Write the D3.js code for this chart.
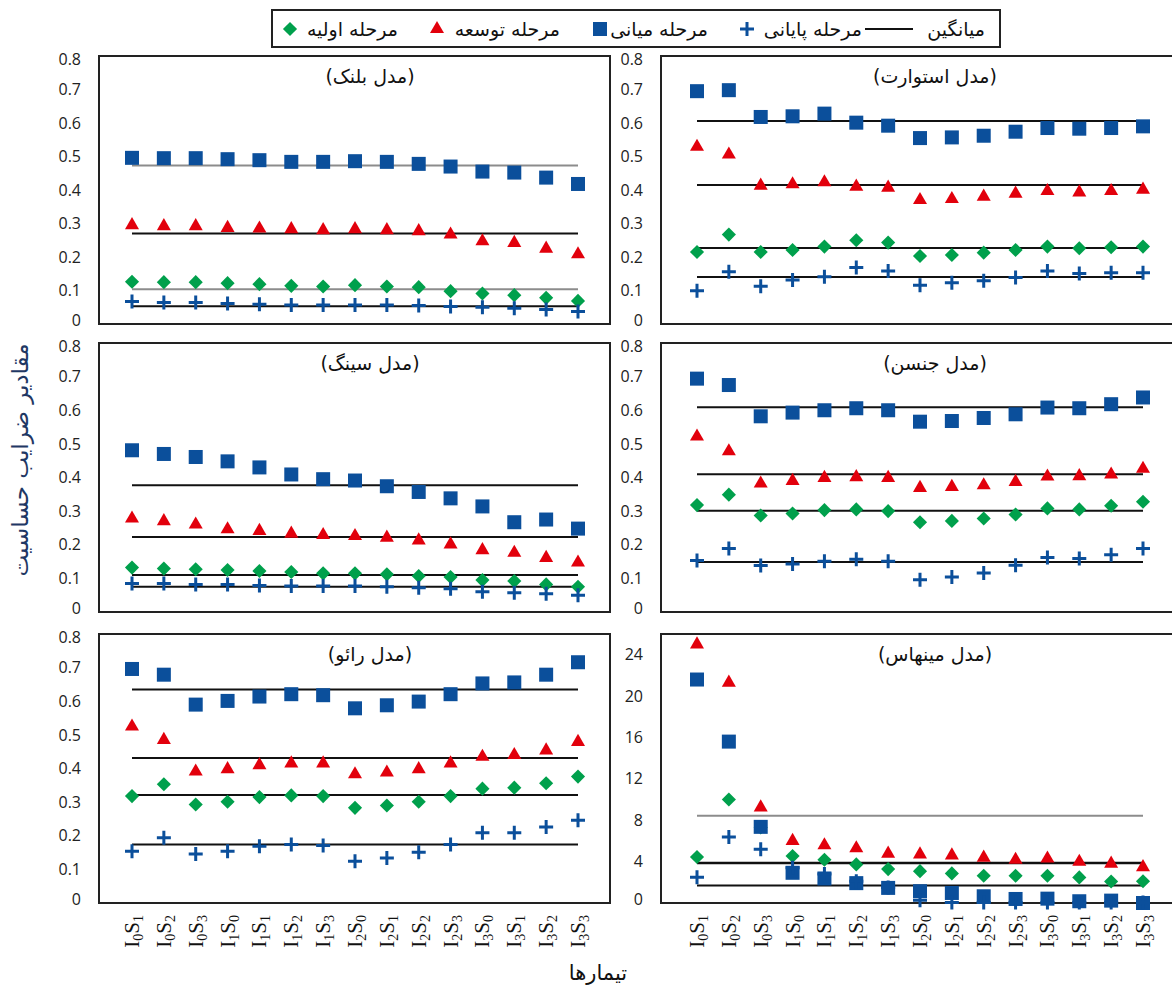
<!DOCTYPE html>
<html>
<head>
<meta charset="utf-8">
<script src="https://cdn.jsdelivr.net/npm/d3@7"></script>
<style>
body { margin: 0; background: #fff; }
</style>
</head>
<body>
<div id="chart"></div>
<script>
// treatments (x axis)
const treatments = ["I0S1","I0S2","I0S3","I1S0","I1S1","I1S2","I1S3","I2S0","I2S1","I2S2","I2S3","I3S0","I3S1","I3S2","I3S3"];
const stageNames = ["مرحله اولیه", "مرحله توسعه", "مرحله میانی", "مرحله پایانی"];
const meanName = "میانگین";
const modelTitles = ["(مدل بلنک)", "(مدل استوارت)", "(مدل سینگ)", "(مدل جنسن)", "(مدل رائو)", "(مدل مینهاس)"];
const smallTicks = [0, 0.1, 0.2, 0.3, 0.4, 0.5, 0.6, 0.7, 0.8];
const minhasTicks = [0, 4, 8, 12, 16, 20, 24];

// Blank
const blankInitial = [0.126,0.125,0.125,0.122,0.119,0.114,0.112,0.116,0.112,0.110,0.098,0.091,0.086,0.078,0.069];
const blankDevelop = [0.295,0.292,0.292,0.287,0.285,0.283,0.280,0.283,0.280,0.277,0.267,0.247,0.242,0.225,0.208];
const blankMiddle  = [0.496,0.495,0.495,0.492,0.489,0.484,0.484,0.486,0.484,0.478,0.470,0.455,0.452,0.437,0.418];
const blankLate    = [0.067,0.064,0.064,0.061,0.059,0.057,0.057,0.057,0.057,0.055,0.052,0.050,0.047,0.043,0.037];
const blankMeans   = [0.104, 0.270, 0.473, 0.053];

// Stewart
const stewartInitial = [0.215,0.267,0.215,0.221,0.231,0.250,0.243,0.203,0.206,0.213,0.221,0.231,0.226,0.229,0.231];
const stewartDevelop = [0.529,0.506,0.413,0.417,0.423,0.410,0.407,0.370,0.373,0.380,0.389,0.397,0.393,0.397,0.401];
const stewartMiddle  = [0.695,0.698,0.618,0.620,0.628,0.601,0.592,0.555,0.557,0.562,0.574,0.585,0.583,0.585,0.590];
const stewartLate    = [0.099,0.156,0.113,0.131,0.141,0.169,0.158,0.116,0.123,0.129,0.139,0.158,0.151,0.153,0.153];
const stewartMeans   = [0.227, 0.415, 0.606, 0.140];

// Sing
const singInitial = [0.132,0.129,0.127,0.125,0.122,0.119,0.115,0.115,0.112,0.107,0.104,0.095,0.092,0.082,0.075];
const singDevelop = [0.278,0.270,0.260,0.246,0.241,0.233,0.229,0.226,0.221,0.213,0.201,0.184,0.176,0.161,0.147];
const singMiddle  = [0.481,0.470,0.461,0.448,0.430,0.409,0.395,0.391,0.374,0.357,0.338,0.314,0.267,0.275,0.248];
const singLate    = [0.085,0.085,0.082,0.082,0.079,0.077,0.077,0.077,0.075,0.072,0.069,0.060,0.057,0.054,0.050];
const singMeans   = [0.110, 0.223, 0.377, 0.075];

// Jensen
const jensenInitial = [0.318,0.349,0.287,0.293,0.303,0.305,0.300,0.267,0.271,0.278,0.290,0.308,0.305,0.316,0.328];
const jensenDevelop = [0.522,0.478,0.382,0.390,0.399,0.401,0.399,0.369,0.372,0.377,0.387,0.403,0.404,0.409,0.426];
const jensenMiddle  = [0.694,0.675,0.582,0.593,0.600,0.606,0.600,0.566,0.568,0.577,0.588,0.608,0.606,0.618,0.638];
const jensenLate    = [0.153,0.189,0.138,0.143,0.151,0.157,0.151,0.096,0.104,0.116,0.139,0.162,0.159,0.170,0.189];
const jensenMeans   = [0.301, 0.410, 0.609, 0.149];

// Rao
const raoInitial = [0.318,0.353,0.293,0.301,0.315,0.320,0.318,0.283,0.290,0.301,0.318,0.340,0.343,0.356,0.376];
const raoDevelop = [0.525,0.485,0.391,0.398,0.410,0.415,0.415,0.383,0.388,0.398,0.415,0.435,0.440,0.454,0.479];
const raoMiddle  = [0.696,0.679,0.590,0.601,0.614,0.621,0.618,0.579,0.588,0.599,0.621,0.653,0.656,0.679,0.716];
const raoLate    = [0.154,0.194,0.146,0.154,0.169,0.174,0.171,0.124,0.134,0.151,0.174,0.209,0.209,0.226,0.246];
const raoMeans   = [0.321, 0.431, 0.635, 0.174];

// Minhas
const minhasInitial = [4.45,10.0,7.3,4.54,4.18,3.73,3.28,3.08,2.86,2.63,2.63,2.63,2.47,2.08,2.10];
const minhasDevelop = [25.0,21.3,9.24,6.0,5.58,5.29,4.77,4.70,4.60,4.38,4.18,4.30,3.99,3.80,3.47];
const minhasMiddle  = [21.6,15.6,7.36,2.92,2.37,1.92,1.46,1.14,0.97,0.65,0.39,0.42,0.17,0.23,0.0];
const minhasLate    = [2.5,6.39,5.19,3.4,2.8,2.1,1.5,0.26,0.05,0.05,0.05,0.05,0.05,0.05,0.05];
const minhasMeans   = [3.9, 8.43, 3.85, 1.69];

const panels = [
  { title: modelTitles[0], series: [blankInitial, blankDevelop, blankMiddle, blankLate], means: blankMeans, grey: [true, false, true, false], max: 0.8, ticks: smallTicks },
  { title: modelTitles[1], series: [stewartInitial, stewartDevelop, stewartMiddle, stewartLate], means: stewartMeans, grey: [false, false, false, false], max: 0.8, ticks: smallTicks },
  { title: modelTitles[2], series: [singInitial, singDevelop, singMiddle, singLate], means: singMeans, grey: [false, false, false, false], max: 0.8, ticks: smallTicks },
  { title: modelTitles[3], series: [jensenInitial, jensenDevelop, jensenMiddle, jensenLate], means: jensenMeans, grey: [false, false, false, false], max: 0.8, ticks: smallTicks },
  { title: modelTitles[4], series: [raoInitial, raoDevelop, raoMiddle, raoLate], means: raoMeans, grey: [false, false, false, false], max: 0.8, ticks: smallTicks },
  { title: modelTitles[5], series: [minhasInitial, minhasDevelop, minhasMiddle, minhasLate], means: minhasMeans, grey: [false, true, false, false], max: 26, ticks: minhasTicks }
];

const width = 1172;
const height = 987;
const faFont = "'DejaVu Sans', sans-serif";

const cols = [
  { x0: 99, x1: 610, d0: 132, d1: 578 },
  { x0: 661, x1: 1195, d0: 697, d1: 1143 }
];
const rows = [
  { top: 56, bot: 324 },
  { top: 343, bot: 612 },
  { top: 634, bot: 903 }
];

const blue = "#0b4f9b";
const red = "#e2000c";
const green = "#00a04c";

const svg = d3.select("#chart").append("svg")
  .attr("width", width)
  .attr("height", height);

// marker drawing helpers
function drawMarker(g, kind, x, y) {
  if (kind === 0) {
    g.append("rect").attr("x", x - 5).attr("y", y - 5).attr("width", 10).attr("height", 10)
      .attr("transform", `rotate(45,${x},${y})`).attr("fill", green);
  } else if (kind === 1) {
    g.append("path").attr("d", d3.symbol(d3.symbolTriangle, 85)()).attr("transform", `translate(${x},${y})`).attr("fill", red);
  } else if (kind === 2) {
    g.append("rect").attr("x", x - 7).attr("y", y - 7).attr("width", 14).attr("height", 14).attr("fill", blue);
  } else {
    g.append("path").attr("d", `M${x - 7},${y}H${x + 7}M${x},${y - 7}V${y + 7}`)
      .attr("stroke", blue).attr("stroke-width", 3);
  }
}

panels.forEach((p, i) => {
  const c = cols[i % 2];
  const r = rows[Math.floor(i / 2)];
  const x = d3.scalePoint().domain(treatments).range([c.d0, c.d1]);
  const y = d3.scaleLinear().domain([0, p.max]).range([r.bot, r.top]);
  const g = svg.append("g");

  g.append("rect")
    .attr("x", c.x0).attr("y", r.top)
    .attr("width", c.x1 - c.x0).attr("height", r.bot - r.top)
    .attr("fill", "none").attr("stroke", "#222").attr("stroke-width", 2);

  // y axis labels, no line
  const ax = g.append("g")
    .attr("transform", `translate(${c.x0 - 18},0)`)
    .call(d3.axisLeft(y).tickValues(p.ticks).tickSize(0).tickPadding(0).tickFormat(d => d3.format("")(d)));
  ax.select(".domain").remove();
  ax.selectAll("text").style("font-family", "'Open Sans', sans-serif").style("font-size", "16px").attr("fill", "#222");
  // first/last labels touch the next panel's labels, nudge them apart a bit
  ax.selectAll(".tick text").filter(d => d === 0).attr("dy", "0.1em");
  ax.selectAll(".tick text").filter(d => d === 0.8).attr("dy", "0.5em");

  g.append("text")
    .attr("x", (c.d0 + c.d1) / 2 + 15).attr("y", r.top + 27)
    .attr("text-anchor", "middle").style("font-family", faFont).style("font-size", "19px").attr("fill", "#111")
    .text(p.title);

  // mean lines
  p.means.forEach((m, k) => {
    g.append("line")
      .attr("x1", x(treatments[0])).attr("x2", x(treatments[treatments.length - 1]))
      .attr("y1", y(m)).attr("y2", y(m))
      .attr("stroke", p.grey[k] ? "#8c8c8c" : "#111").attr("stroke-width", 2);
  });

  // markers: diamonds, triangles, squares, plus
  p.series.forEach((vals, k) => {
    vals.forEach((v, j) => drawMarker(g, k, x(treatments[j]), y(v)));
  });

  // x labels only under bottom panels
  if (Math.floor(i / 2) === 2) {
    treatments.forEach(t => {
      const lab = g.append("text")
        .attr("transform", `translate(${x(t) + 7},915) rotate(-90)`)
        .attr("text-anchor", "end")
        .style("font-family", "'Liberation Serif', serif")
        .style("font-size", "21px").attr("fill", "#111");
      lab.append("tspan").text("I");
      lab.append("tspan").style("font-size", "14px").attr("dy", 4).text(t[1]);
      lab.append("tspan").attr("dy", -4).text("S");
      lab.append("tspan").style("font-size", "14px").attr("dy", 4).text(t[3]);
    });
  }
});

// legend
const legend = svg.append("g");
legend.append("rect").attr("x", 272).attr("y", 10).attr("width", 728).attr("height", 37)
  .attr("fill", "#fff").attr("stroke", "#222").attr("stroke-width", 2);
const legendItems = [
  { label: meanName, textEnd: 985, mark: -1, mx: 889 },
  { label: stageNames[3], textEnd: 862, mark: 3, mx: 747 },
  { label: stageNames[2], textEnd: 708, mark: 2, mx: 600 },
  { label: stageNames[1], textEnd: 560, mark: 1, mx: 437 },
  { label: stageNames[0], textEnd: 398, mark: 0, mx: 290 }
];
legendItems.forEach(it => {
  legend.append("text").attr("x", it.textEnd).attr("y", 36)
    .attr("text-anchor", "end").style("font-family", faFont).style("font-size", "19px").attr("fill", "#111").text(it.label);
  if (it.mark < 0) {
    legend.append("line").attr("x1", it.mx - 24).attr("x2", it.mx + 24).attr("y1", 29).attr("y2", 29)
      .attr("stroke", "#111").attr("stroke-width", 2);
  } else {
    drawMarker(legend, it.mark, it.mx, 29);
  }
});

// axis titles
svg.append("text")
  .attr("transform", "translate(28,460) rotate(-90)")
  .attr("text-anchor", "middle").style("font-family", faFont).style("font-size", "23px").attr("fill", "#1f3864")
  .text("مقادیر ضرایب حساسیت");

svg.append("text")
  .attr("x", 598).attr("y", 980)
  .attr("text-anchor", "middle").style("font-family", faFont).style("font-size", "21px").attr("fill", "#111")
  .text("تیمارها");
</script>
</body>
</html>
